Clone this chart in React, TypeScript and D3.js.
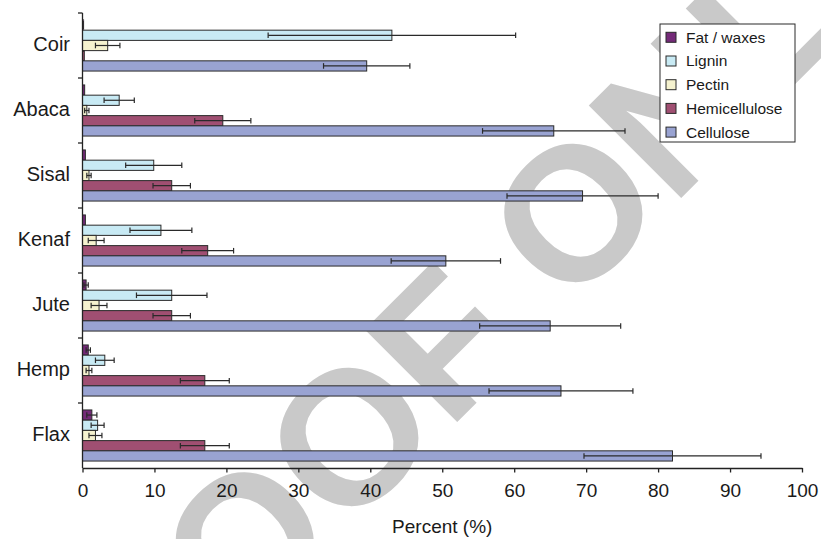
import { useEffect, useRef } from "react";
import * as d3 from "d3";

const width = 821;
const height = 539;
const margin = { top: 13, right: 19, bottom: 71, left: 82.5 };

const categories = ["Coir", "Abaca", "Sisal", "Kenaf", "Jute", "Hemp", "Flax"];
const seriesNames = ["Fat / waxes", "Lignin", "Pectin", "Hemicellulose", "Cellulose"];
const seriesColors = ["#742a78", "#c8eaf4", "#f5f2cf", "#a04f72", "#99a3d2"];

const fat = [0.15, 0.3, 0.4, 0.4, 0.5, 0.8, 1.3];
const fatErr = [0, 0, 0, 0, 0.3, 0.3, 0.7];
const lignin = [43, 5.1, 9.9, 10.9, 12.4, 3.1, 2.1];
const ligninErr = [17.2, 2.1, 3.9, 4.3, 4.9, 1.3, 0.9];
const pectin = [3.5, 0.6, 0.9, 1.9, 2.3, 0.9, 1.8];
const pectinErr = [1.7, 0.3, 0.3, 1.1, 1.1, 0.4, 0.9];
const hemicellulose = [0.25, 19.5, 12.4, 17.4, 12.4, 17.0, 17.0];
const hemicelluloseErr = [0, 3.9, 2.6, 3.6, 2.6, 3.4, 3.4];
const cellulose = [39.5, 65.5, 69.5, 50.5, 65.0, 66.5, 82.0];
const celluloseErr = [6.0, 9.9, 10.5, 7.6, 9.8, 10.0, 12.3];

const xTicks = [0, 10, 20, 30, 40, 50, 60, 70, 80, 90, 100];

const values = [fat, lignin, pectin, hemicellulose, cellulose];
const errors = [fatErr, ligninErr, pectinErr, hemicelluloseErr, celluloseErr];

const font = "'Liberation Sans', Arial, Helvetica, sans-serif";

const App = () => {
  const svgRef = useRef<SVGSVGElement>(null);

  useEffect(() => {
    document.body.style.margin = "0";

    const x = d3
      .scaleLinear()
      .domain([0, 100])
      .range([margin.left, width - margin.right]);
    const y = d3
      .scaleBand()
      .domain(categories)
      .range([margin.top, height - margin.bottom]);
    const ySub = d3
      .scaleBand()
      .domain(seriesNames)
      .range([0, y.bandwidth()])
      .paddingOuter(0.68);

    const svg = d3.select(svgRef.current);
    svg.selectAll("*").remove();

    // watermark behind everything
    svg
      .append("text")
      .attr("transform", "translate(444,342) rotate(-45)")
      .attr("text-anchor", "middle")
      .attr("dominant-baseline", "central")
      .attr("font-family", font)
      .attr("font-weight", "bold")
      .attr("font-size", 190)
      .attr("fill", "#c9c9c9")
      .text("PROOF ONLY");

    const rows = categories.flatMap((c, i) =>
      seriesNames.map((s, j) => ({
        cat: c,
        series: s,
        color: seriesColors[j],
        v: values[j][i],
        e: errors[j][i],
      }))
    );

    const barY = (d: (typeof rows)[number]) => (y(d.cat) as number) + (ySub(d.series) as number);

    svg
      .append("g")
      .selectAll("rect")
      .data(rows)
      .join("rect")
      .attr("x", x(0))
      .attr("y", (d) => barY(d))
      .attr("width", (d) => x(d.v) - x(0))
      .attr("height", ySub.bandwidth())
      .attr("fill", (d) => d.color)
      .attr("stroke", "#2a2a2a")
      .attr("stroke-width", 1);

    // error bars
    const err = svg
      .append("g")
      .attr("stroke", "#2a2a2a")
      .attr("stroke-width", 1.2)
      .selectAll("g")
      .data(rows.filter((d) => d.e > 0))
      .join("g")
      .attr("transform", (d) => `translate(0,${barY(d) + ySub.bandwidth() / 2})`);
    err
      .append("line")
      .attr("x1", (d) => x(d.v - d.e))
      .attr("x2", (d) => x(d.v + d.e));
    err
      .append("line")
      .attr("x1", (d) => x(d.v - d.e))
      .attr("x2", (d) => x(d.v - d.e))
      .attr("y1", -2.8)
      .attr("y2", 2.8);
    err
      .append("line")
      .attr("x1", (d) => x(d.v + d.e))
      .attr("x2", (d) => x(d.v + d.e))
      .attr("y1", -2.8)
      .attr("y2", 2.8);

    // x-axis
    const xAxis = d3
      .axisBottom(x)
      .tickValues(xTicks)
      .tickSize(4.5)
      .tickPadding(11)
      .tickSizeOuter(0);
    const gx = svg
      .append("g")
      .attr("transform", `translate(0,${height - margin.bottom})`)
      .call(xAxis);
    gx.select(".domain").attr("stroke", "#222").attr("stroke-width", 1.3);
    gx.selectAll(".tick line").attr("stroke", "#222").attr("stroke-width", 1.3);
    gx.selectAll(".tick text")
      .attr("font-family", font)
      .attr("font-size", 19)
      .attr("fill", "#1a1a1a");

    // y-axis: ticks on category boundaries
    const gy = svg.append("g");
    gy.append("line")
      .attr("x1", x(0))
      .attr("x2", x(0))
      .attr("y1", margin.top)
      .attr("y2", height - margin.bottom)
      .attr("stroke", "#222")
      .attr("stroke-width", 1.3);
    gy.selectAll("line.tk")
      .data(categories)
      .join("line")
      .attr("class", "tk")
      .attr("x1", x(0) - 4.5)
      .attr("x2", x(0))
      .attr("y1", (d) => y(d) as number)
      .attr("y2", (d) => y(d) as number)
      .attr("stroke", "#222")
      .attr("stroke-width", 1.3);
    gy.selectAll("text")
      .data(categories)
      .join("text")
      .attr("x", 70)
      .attr("y", (d) => (y(d) as number) + y.bandwidth() / 2 - 2)
      .attr("dy", "0.35em")
      .attr("text-anchor", "end")
      .attr("font-family", font)
      .attr("font-size", 20)
      .attr("fill", "#1a1a1a")
      .text((d) => d);

    svg
      .append("text")
      .attr("x", (x(0) + x(100)) / 2)
      .attr("y", 533)
      .attr("text-anchor", "middle")
      .attr("font-family", font)
      .attr("font-size", 19)
      .attr("fill", "#1a1a1a")
      .text("Percent (%)");

    // legend
    const legend = svg.append("g").attr("transform", "translate(660,24)");
    legend
      .append("rect")
      .attr("width", 135)
      .attr("height", 118)
      .attr("fill", "#fff")
      .attr("stroke", "#2a2a2a")
      .attr("stroke-width", 1);
    const item = legend
      .selectAll("g")
      .data(seriesNames)
      .join("g")
      .attr("transform", (_, i) => `translate(6,${13.3 + i * 23.7})`);
    item
      .append("rect")
      .attr("x", 0)
      .attr("y", -5)
      .attr("width", 10)
      .attr("height", 10)
      .attr("fill", (_, i) => seriesColors[i])
      .attr("stroke", "#2a2a2a")
      .attr("stroke-width", 1);
    item
      .append("text")
      .attr("x", 20)
      .attr("dy", "0.35em")
      .attr("font-family", font)
      .attr("font-size", 15.5)
      .attr("fill", "#1a1a1a")
      .text((d) => d);
  }, []);

  return <svg ref={svgRef} width={width} height={height} style={{ display: "block" }}></svg>;
};

export default App;
